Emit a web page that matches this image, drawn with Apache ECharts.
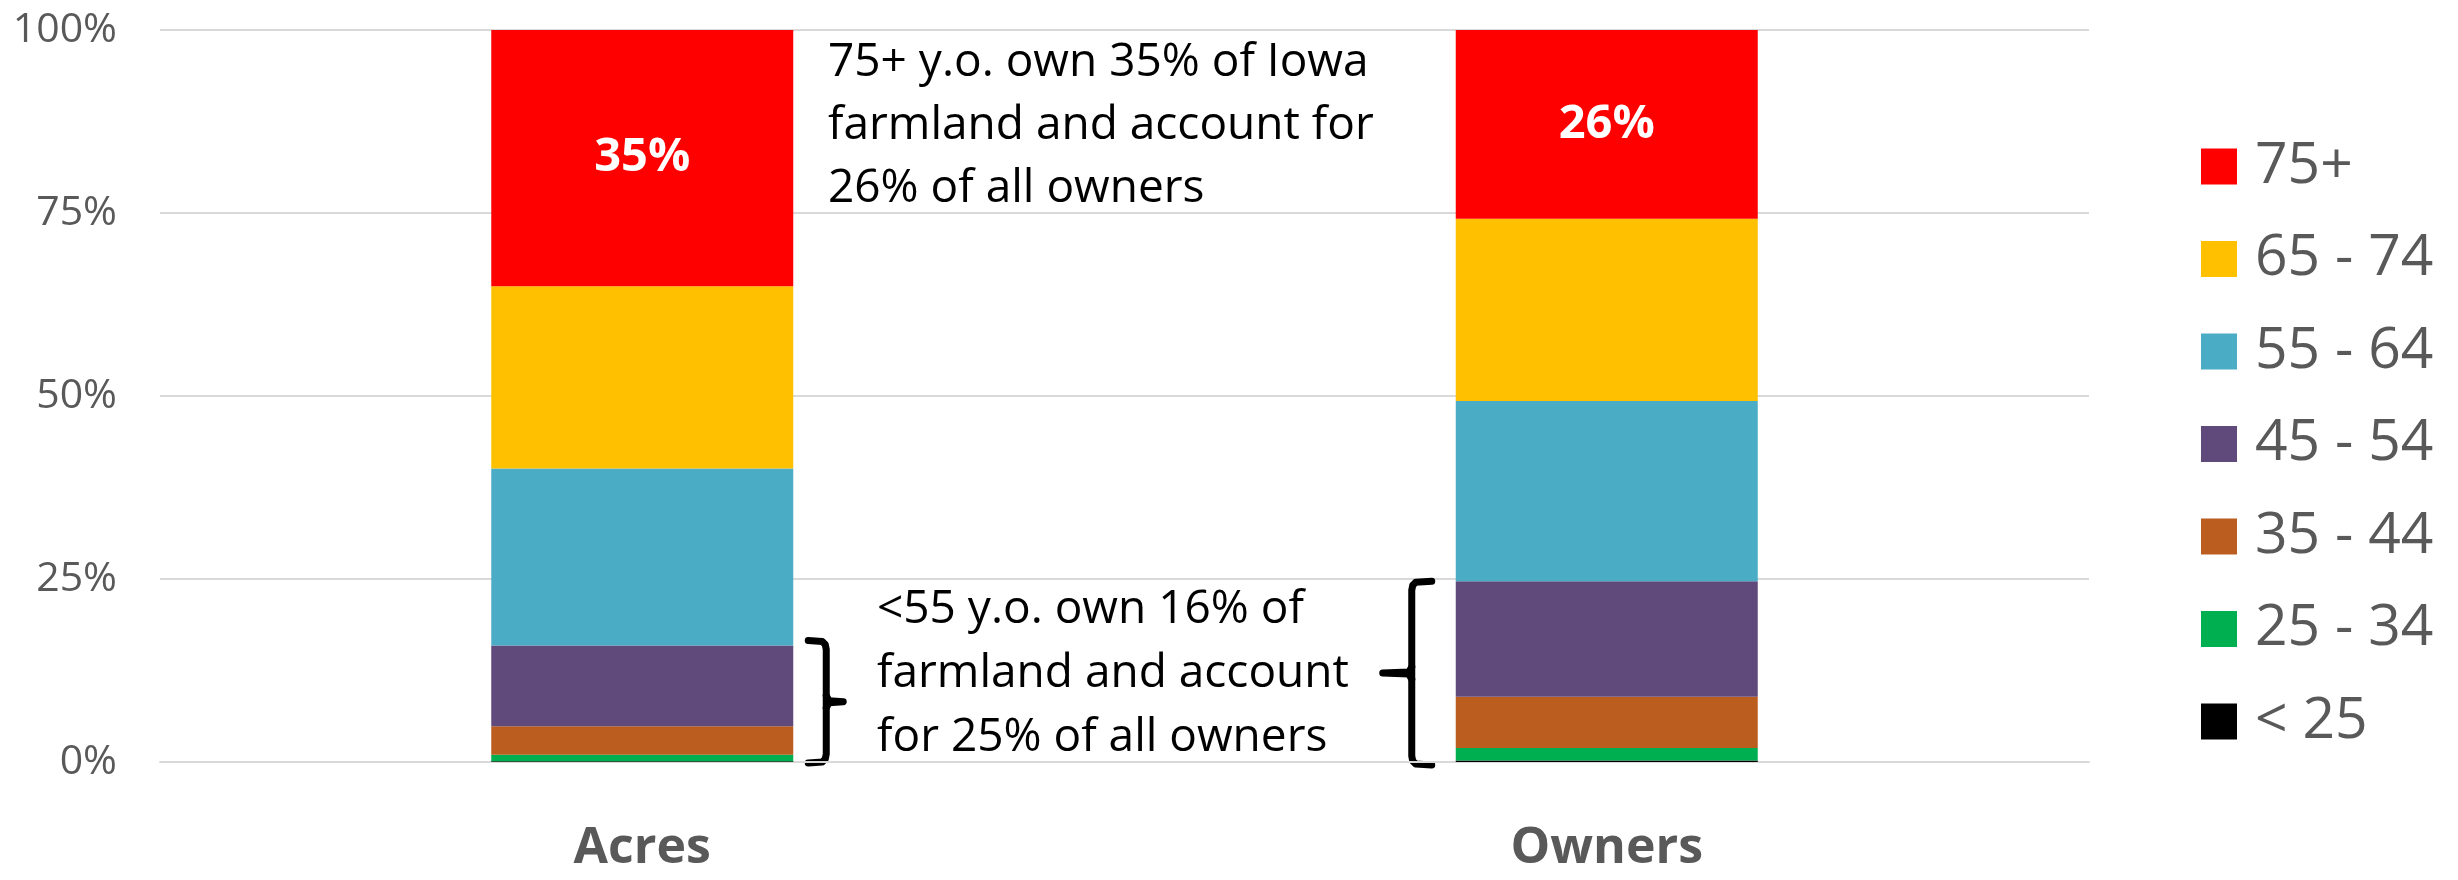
<!DOCTYPE html>
<html>
<head>
<meta charset="utf-8">
<title>Iowa farmland by owner age</title>
<script src="https://cdn.jsdelivr.net/npm/echarts@6/dist/echarts.min.js"></script>
<style>
  html, body { margin: 0; padding: 0; background: #fff; }
  #main { width: 2458px; height: 880px; }
</style>
</head>
<body>
<div id="main"></div>
<script>
// chart data (percent of total)
const categories = ['Acres', 'Owners']
const ageGroups = ['< 25', '25 - 34', '35 - 44', '45 - 54', '55 - 64', '65 - 74', '75+']
const under25 = [0.1, 0.2]
const age25to34 = [0.9, 1.7]
const age35to44 = [3.9, 7.0]
const age45to54 = [11.0, 15.8]
const age55to64 = [24.2, 24.6]
const age65to74 = [24.9, 24.9]
const age75plus = [35.0, 25.8]
const yTicks = [0, 25, 50, 75, 100]

const noteTop = '75+ y.o. own 35% of Iowa\nfarmland and account for\n26% of all owners'
const noteBottom = '<55 y.o. own 16% of\nfarmland and account\nfor 25% of all owners'

const colors = ['#000000', '#00B050', '#BA5D1F', '#604A7B', '#4BACC6', '#FFC000', '#FF0000']
const groupValues = [under25, age25to34, age35to44, age45to54, age55to64, age65to74, age75plus]

const barWidth = 302
const font = '"Open Sans", "Noto Sans", sans-serif'

const chart = echarts.init(document.getElementById('main'))

const series = ageGroups.map((name, i) => {
  const s = {
    name: name,
    type: 'bar',
    stack: 'total',
    barWidth: barWidth,
    itemStyle: { color: colors[i] },
    data: groupValues[i]
  }
  if (name === '75+') {
    s.label = {
      show: true,
      position: 'inside',
      formatter: p => Math.round(p.value) + '%',
      color: '#fff',
      fontWeight: 'bold',
      fontSize: 47,
      fontFamily: font
    }
  }
  return s
})

chart.setOption({
  animation: false,
  backgroundColor: '#fff',
  grid: { left: 160, right: 369, top: 30, bottom: 118 },
  legend: {
    orient: 'vertical',
    left: 2196,
    top: 133,
    icon: 'rect',
    itemWidth: 36,
    itemHeight: 36,
    itemGap: 35.5,
    data: ageGroups.slice().reverse(),
    textStyle: {
      color: '#595959',
      fontSize: 57,
      fontFamily: font,
      padding: [0, 0, 0, 13]
    }
  },
  xAxis: {
    type: 'category',
    data: categories,
    axisTick: { show: false },
    axisLine: { lineStyle: { color: '#D9D9D9', width: 2 } },
    axisLabel: {
      color: '#595959',
      fontSize: 50,
      fontWeight: 'bold',
      fontFamily: font,
      lineHeight: 50,
      margin: 62
    }
  },
  yAxis: {
    type: 'value',
    min: yTicks[0],
    max: yTicks[yTicks.length - 1],
    interval: yTicks[1] - yTicks[0],
    axisLine: { show: false },
    axisTick: { show: false },
    splitLine: { lineStyle: { color: '#D9D9D9', width: 2 } },
    axisLabel: {
      formatter: '{value}%',
      color: '#595959',
      fontSize: 41,
      fontFamily: font,
      margin: 43
    }
  },
  series: series
})

// braces + notes, placed with the chart's own scales
function sumUnder55(idx) {
  return under25[idx] + age25to34[idx] + age35to44[idx] + age45to54[idx]
}

function brace(xBar, yTop, yBot, arm, tip) {
  const yMid = (yTop + yBot) / 2
  const dir = Math.sign(arm)
  const style = { stroke: '#000', lineWidth: 7, fill: null, lineJoin: 'round', lineCap: 'round' }
  return [
    {
      type: 'polyline',
      shape: {
        points: [
          [xBar - arm, yTop],
          [xBar - dir * 4, yTop + 1],
          [xBar - dir * 1, yTop + 4],
          [xBar, yTop + 9],
          [xBar, yBot - 9],
          [xBar - dir * 1, yBot - 4],
          [xBar - dir * 4, yBot - 1],
          [xBar - arm, yBot]
        ]
      },
      style: style
    },
    {
      type: 'polyline',
      shape: { points: [[xBar, yMid - 6], [xBar + dir * 3, yMid - 1], [xBar + tip, yMid], [xBar + dir * 3, yMid + 1], [xBar, yMid + 6]] },
      style: style
    }
  ]
}

const acresX = chart.convertToPixel({ xAxisIndex: 0 }, categories[0])
const ownersX = chart.convertToPixel({ xAxisIndex: 0 }, categories[1])
const y0 = chart.convertToPixel({ yAxisIndex: 0 }, 0)
const yAcres = chart.convertToPixel({ yAxisIndex: 0 }, sumUnder55(0) + 0.7)
const yOwners = chart.convertToPixel({ yAxisIndex: 0 }, sumUnder55(1))

const elements = []
  .concat(brace(acresX + barWidth / 2 + 33, yAcres, y0 + 1, 18, 17))
  .concat(brace(ownersX - barWidth / 2 - 44, yOwners, y0 + 3, -20, -29))

elements.push({
  type: 'text',
  left: 828,
  top: 31,
  style: { text: noteTop, fill: '#000', fontSize: 46, fontFamily: font, lineHeight: 63 }
})
elements.push({
  type: 'text',
  left: 877,
  top: 578,
  style: { text: noteBottom, fill: '#000', fontSize: 46, fontFamily: font, lineHeight: 64 }
})

chart.setOption({ graphic: { elements: elements } })
</script>
</body>
</html>
